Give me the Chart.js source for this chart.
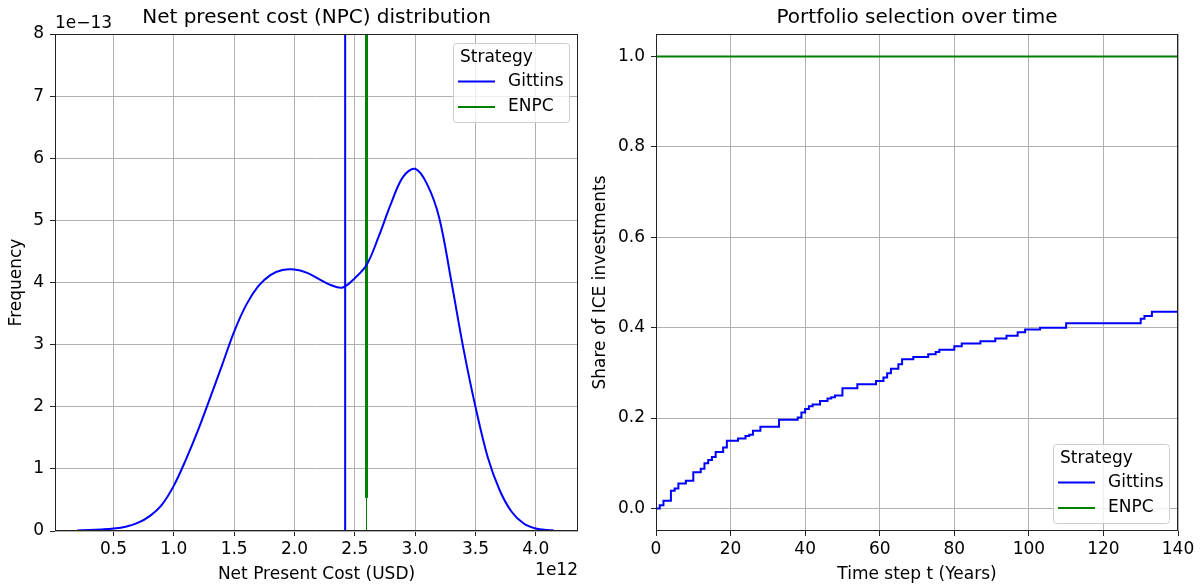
<!DOCTYPE html>
<html>
<head>
<meta charset="utf-8">
<script src="https://cdn.jsdelivr.net/npm/chart.js@4.4.1/dist/chart.umd.min.js"></script>
<style>
  html, body { margin: 0; padding: 0; background: #fff; }
  #wrap { position: relative; width: 1203px; height: 588px; }
  .pane { position: absolute; top: 0; height: 588px; }
  #npcPane { left: 0; width: 600px; }
  #sharePane { left: 580px; width: 623px; }
</style>
</head>
<body>
<div id="wrap">
  <div class="pane" id="npcPane"><canvas id="npcChart"></canvas></div>
  <div class="pane" id="sharePane"><canvas id="shareChart"></canvas></div>
</div>
<script>
// --- NPC density (x in 1e12 USD, density in 1e-13) ---
const npcX = [0.2, 0.3, 0.4, 0.5, 0.6, 0.7, 0.8, 0.9, 1.0, 1.1, 1.2, 1.3, 1.4, 1.5, 1.6, 1.7, 1.8, 1.9, 2.0,
              2.1, 2.2, 2.3, 2.4, 2.5, 2.6, 2.7, 2.8, 2.9, 3.0, 3.1, 3.2, 3.3, 3.4, 3.5, 3.6, 3.7, 3.8, 3.9,
              4.0, 4.1, 4.15];
const gittinsDensity = [0.01, 0.015, 0.025, 0.04, 0.07, 0.13, 0.24, 0.42, 0.73, 1.15, 1.62, 2.14, 2.67, 3.21,
                        3.64, 3.94, 4.12, 4.2, 4.21, 4.16, 4.06, 3.96, 3.92, 4.07, 4.29, 4.75, 5.27, 5.7, 5.83,
                        5.58, 5.04, 4.02, 2.94, 2.0, 1.2, 0.66, 0.31, 0.12, 0.04, 0.015, 0.01];
const gittinsMeanNpc = 2.42;
const enpcNpc = 2.597;
const enpcSpikeBase = 0.53;
const npcTicks = [0.5, 1.0, 1.5, 2.0, 2.5, 3.0, 3.5, 4.0];
const freqTicks = [0, 1, 2, 3, 4, 5, 6, 7, 8];

// --- share of ICE investments per year (change points) ---
const gittinsYears = [0, 1, 2, 4, 5, 6, 8, 10, 12, 13, 14, 15, 16, 18, 19, 22, 24, 25, 26, 28, 33, 38, 39, 40,
                      41, 42, 44, 46, 47, 48, 50, 54, 59, 61, 62, 63, 65, 66, 69, 73, 75, 76, 80, 82, 87, 91,
                      94, 97, 99, 103, 110, 130, 131, 133, 140];
const gittinsShare = [0, 0.007, 0.017, 0.039, 0.044, 0.055, 0.061, 0.08, 0.088, 0.1, 0.107, 0.114, 0.125, 0.135,
                      0.15, 0.155, 0.16, 0.163, 0.172, 0.181, 0.196, 0.201, 0.212, 0.22, 0.226, 0.23, 0.238,
                      0.243, 0.246, 0.25, 0.266, 0.275, 0.282, 0.29, 0.299, 0.309, 0.319, 0.33, 0.335, 0.341,
                      0.346, 0.351, 0.359, 0.365, 0.37, 0.376, 0.382, 0.39, 0.396, 0.4, 0.41, 0.42, 0.426, 0.435,
                      0.435];
const enpcYears = [0, 140];
const enpcShare = [1.0, 1.0];
const yearTicks = [0, 20, 40, 60, 80, 100, 120, 140];
const shareTicks = [0, 0.2, 0.4, 0.6, 0.8, 1.0];

const BLUE = '#0000ff';
const GREEN = '#008000';
const FONT_PX = 17;

Chart.defaults.font.family = "'DejaVu Sans', sans-serif";
Chart.defaults.color = '#000';

const pts = (xs, ys) => xs.map((x, i) => ({ x: x, y: ys[i] }));

// spines, offset text and an in-axes legend
const axesDecor = {
  id: 'axesDecor',
  afterDatasetsDraw(chart, args, opts) {
    const { ctx, chartArea: a } = chart;
    ctx.save();
    ctx.strokeStyle = '#222';
    ctx.lineWidth = 1;
    ctx.strokeRect(Math.round(a.left) + 0.5, Math.round(a.top) + 0.5,
                   Math.round(a.right - a.left) - 1, Math.round(a.bottom - a.top) - 1);

    ctx.font = FONT_PX + 'px "DejaVu Sans"';
    ctx.fillStyle = '#000';
    if (opts.yOffsetText) {
      ctx.textAlign = 'left';
      ctx.textBaseline = 'bottom';
      ctx.fillText(opts.yOffsetText, a.left, a.top - 2);
    }
    if (opts.xOffsetText) {
      ctx.textAlign = 'right';
      ctx.textBaseline = 'middle';
      ctx.fillText(opts.xOffsetText, a.right, 571);
    }

    // legend
    const seen = new Set();
    const entries = [];
    chart.data.datasets.forEach(ds => {
      if (ds.label && !seen.has(ds.label)) {
        seen.add(ds.label);
        entries.push({ label: ds.label, color: ds.borderColor });
      }
    });
    const w = 116, h = 79;
    const x0 = a.right - 9 - w;
    const y0 = opts.legendAt === 'bottom' ? a.bottom - 8 - h : a.top + 9;
    ctx.beginPath();
    ctx.roundRect(x0 + 0.5, y0 + 0.5, w, h, 3);
    ctx.fillStyle = 'rgba(255,255,255,0.8)';
    ctx.fill();
    ctx.strokeStyle = '#cccccc';
    ctx.stroke();
    ctx.fillStyle = '#000';
    ctx.textAlign = 'left';
    ctx.textBaseline = 'middle';
    ctx.fillText('Strategy', x0 + 7, y0 + 15);
    entries.forEach((e, i) => {
      const yy = y0 + 38.5 + i * 25.5;
      ctx.beginPath();
      ctx.moveTo(x0 + 5, yy);
      ctx.lineTo(x0 + 42, yy);
      ctx.strokeStyle = e.color;
      ctx.lineWidth = 2;
      ctx.stroke();
      ctx.fillStyle = '#000';
      ctx.fillText(e.label, x0 + 55, yy);
    });
    ctx.restore();
  }
};

function axis(opts) {
  return {
    type: 'linear',
    min: opts.min,
    max: opts.max,
    afterBuildTicks: s => { s.ticks = opts.ticks.map(v => ({ value: v })); },
    afterFit: s => {
      if (opts.width !== undefined) s.width = opts.width;
      if (opts.height !== undefined) s.height = opts.height;
    },
    grid: { color: '#b0b0b0', lineWidth: 1, tickColor: '#222', tickLength: 5 },
    border: { display: false },
    ticks: { font: { size: FONT_PX }, color: '#000', padding: opts.tickPad, maxRotation: 0,
             callback: opts.fmt },
    title: { display: true, text: opts.title, font: { size: FONT_PX }, color: '#000', padding: opts.titlePad }
  };
}

function titleOpts(text) {
  return { display: true, text: text, fullSize: false, color: '#000',
           font: { size: 20, weight: 'normal' }, padding: { top: 6, bottom: 4 } };
}

new Chart(document.getElementById('npcChart'), {
  type: 'line',
  data: {
    datasets: [
      { label: 'Gittins', data: pts(npcX, gittinsDensity), borderColor: BLUE, borderWidth: 2,
        pointRadius: 0, tension: 0.35 },
      { label: 'Gittins', data: pts([gittinsMeanNpc, gittinsMeanNpc], [0, 8]), borderColor: BLUE,
        borderWidth: 2, pointRadius: 0 },
      { data: pts([enpcNpc, enpcNpc], [0, 8]), borderColor: GREEN, borderWidth: 1, pointRadius: 0 },
      { label: 'ENPC', data: pts([enpcNpc, enpcNpc], [enpcSpikeBase, 8]), borderColor: GREEN,
        borderWidth: 3, pointRadius: 0 }
    ]
  },
  options: {
    responsive: true,
    maintainAspectRatio: false,
    animation: false,
    layout: { padding: { left: 0, right: 22, top: 0, bottom: 0 } },
    scales: {
      x: axis({ min: 0.015, max: 4.35, ticks: npcTicks, height: 57, tickPad: 3,
                fmt: v => v.toFixed(1), title: 'Net Present Cost (USD)',
                titlePad: { top: 0, bottom: 2.8 } }),
      y: axis({ min: 0, max: 8, ticks: freqTicks, width: 55, tickPad: 6,
                fmt: v => String(v), title: 'Frequency', titlePad: { top: 6.8, bottom: 0 } })
    },
    plugins: {
      legend: { display: false },
      tooltip: { enabled: false },
      title: titleOpts('Net present cost (NPC) distribution'),
      axesDecor: { yOffsetText: '1e\u221213', xOffsetText: '1e12', legendAt: 'top' }
    }
  },
  plugins: [axesDecor]
});

new Chart(document.getElementById('shareChart'), {
  type: 'line',
  data: {
    datasets: [
      { label: 'Gittins', data: pts(gittinsYears, gittinsShare), borderColor: BLUE, borderWidth: 2,
        pointRadius: 0, stepped: 'before' },
      { label: 'ENPC', data: pts(enpcYears, enpcShare), borderColor: GREEN, borderWidth: 2, pointRadius: 0 }
    ]
  },
  options: {
    responsive: true,
    maintainAspectRatio: false,
    animation: false,
    layout: { padding: { left: 0, right: 25, top: 0, bottom: 0 } },
    scales: {
      x: axis({ min: 0, max: 140, ticks: yearTicks, height: 57, tickPad: 3,
                fmt: v => String(v), title: 'Time step t (Years)', titlePad: { top: 0, bottom: 2.8 } }),
      y: axis({ min: -0.05, max: 1.05, ticks: shareTicks, width: 76, tickPad: 6,
                fmt: v => v.toFixed(1), title: 'Share of ICE investments',
                titlePad: { top: 10.8, bottom: 0 } })
    },
    plugins: {
      legend: { display: false },
      tooltip: { enabled: false },
      title: titleOpts('Portfolio selection over time'),
      axesDecor: { legendAt: 'bottom' }
    }
  },
  plugins: [axesDecor]
});
</script>
</body>
</html>
